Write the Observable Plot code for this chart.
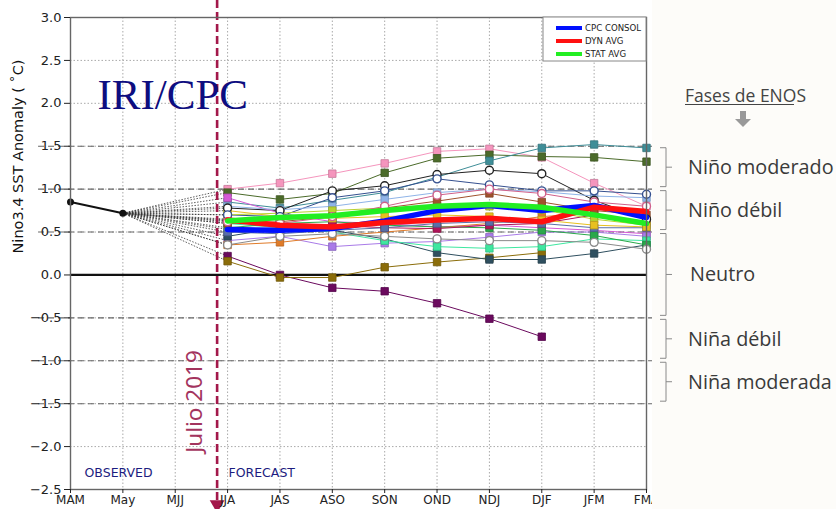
<!DOCTYPE html>
<html><head><meta charset="utf-8">
<script src="https://cdn.jsdelivr.net/npm/d3@7"></script>
<script src="https://cdn.jsdelivr.net/npm/@observablehq/plot@0.6"></script>
<style>
html,body{margin:0;padding:0;background:#fff;}
#chart{position:relative;width:836px;height:509px;overflow:hidden;}
svg{overflow:visible;}
</style></head><body><div id="chart"></div>
<script>
// ---------------- data ----------------
const seasons = ["MAM","May","MJJ","JJA","JAS","ASO","SON","OND","NDJ","DJF","JFM","FMA"];
const firstForecast = 3; // index of JJA
const observed = [0.85, 0.72];
const cpcConsol = [0.53, 0.52, 0.54, 0.63, 0.75, 0.81, 0.75, 0.81, 0.67];
const dynAvg    = [0.64, 0.58, 0.56, 0.61, 0.64, 0.66, 0.62, 0.79, 0.74];
const statAvg   = [0.63, 0.67, 0.69, 0.75, 0.80, 0.82, 0.79, 0.70, 0.60];

const modelColors  = ["#f595bd","#4b6b2a","#3f8e98","#222222","#35508f","#d65ad6","#a97be8","#e07b28","#6b0a5e","#8b6d0a","#2f4f5f","#3ee8a0","#2aa84a","#b0145a","#8fb4e8","#b8d230","#8a8a8a","#a0522d","#d0608a","#5a6fa8","#e8c020"];
const modelSymbols = ["square","square","square","circle","circle","square","square","square","square","square","square","square","square","square","square","square","circle","square","circle","square","square"];
const modelValues = [
  [1.00, 1.07, 1.18, 1.30, 1.44, 1.47, 1.37, 1.07, 0.80],
  [0.96, 0.88, 0.95, 1.19, 1.36, 1.40, 1.38, 1.37, 1.32],
  [0.85, 0.78, 0.87, 0.96, 1.14, 1.33, 1.48, 1.52, 1.48],
  [0.78, 0.75, 0.98, 1.04, 1.17, 1.22, 1.18, 0.87, 0.65],
  [0.70, 0.68, 0.90, 0.98, 1.12, 1.05, 0.98, 0.98, 0.94],
  [0.90, 0.72, 0.62, 0.60, 0.56, 0.58, 0.55, 0.52, 0.48],
  [0.40, 0.45, 0.33, 0.37, 0.39, 0.44, 0.50, 0.50, 0.45],
  [0.35, 0.38, 0.45, 0.50, 0.55, 0.60, 0.68, 0.72, 0.60],
  [0.22, 0.00, -0.15, -0.19, -0.33, -0.51, -0.72, null, null],
  [0.16, -0.03, -0.03, 0.09, 0.15, 0.20, 0.26, null, null],
  [0.45, 0.55, 0.52, 0.42, 0.26, 0.18, 0.18, 0.25, 0.35],
  [0.60, 0.55, 0.50, 0.40, 0.33, 0.31, 0.33, 0.42, 0.40],
  [0.55, 0.60, 0.62, 0.58, 0.56, 0.55, 0.52, 0.46, 0.35],
  [0.65, 0.60, 0.58, 0.55, 0.54, 0.58, 0.60, 0.70, 0.62],
  [0.80, 0.76, 0.80, 0.88, 0.96, 1.00, 0.97, 0.92, 0.90],
  [0.70, 0.72, 0.75, 0.78, 0.80, 0.80, 0.76, 0.65, 0.58],
  [0.35, 0.45, 0.48, 0.45, 0.42, 0.40, 0.40, 0.38, 0.30],
  [0.60, 0.62, 0.68, 0.78, 0.86, 0.95, 0.85, 0.75, 0.70],
  [0.62, 0.60, 0.68, 0.80, 0.93, 1.00, 0.95, 0.85, 0.80],
  [0.50, 0.48, 0.52, 0.55, 0.60, 0.62, 0.60, 0.55, 0.55],
  [0.75, 0.68, 0.66, 0.68, 0.70, 0.68, 0.64, 0.58, 0.56]
];
const yTicks = [3.0, 2.5, 2.0, 1.5, 1.0, 0.5, 0.0, -0.5, -1.0, -1.5, -2.0, -2.5];
const thresholds = [1.5, 1.0, 0.5, -0.5, -1.0, -1.5];
const legendItems = [
  {label: "CPC CONSOL", color: "#0010ff"},
  {label: "DYN AVG", color: "#ff1010"},
  {label: "STAT AVG", color: "#22ee22"}
];
const phases = [
  {label: "Niño moderado", hi: 1.5, lo: 1.0},
  {label: "Niño débil", hi: 1.0, lo: 0.5},
  {label: "Neutro", hi: 0.5, lo: -0.5},
  {label: "Niña débil", hi: -0.5, lo: -1.0},
  {label: "Niña moderada", hi: -1.0, lo: -1.5}
];
const julioPos = 2.8;       // between MJJ and JJA
const julioLabel = "Julio 2019";

// ---------------- tables ----------------
const rows = [];
modelValues.forEach((vals, m) => vals.forEach((v, k) => {
  if (v !== null) rows.push({model: m, i: firstForecast + k, v, color: modelColors[m],
    edge: d3.color(modelColors[m]).darker(0.6).formatHex(), symbol: modelSymbols[m]});
}));
const toSeries = arr => arr.map((v, k) => ({i: firstForecast + k, v}));
const obsRows = observed.map((v, i) => ({i, v}));
const jjaStarts = modelValues.map(vals => ({v: vals[0]}))
  .concat([cpcConsol, dynAvg, statAvg].map(a => ({v: a[0]})));

const plot = Plot.plot({
  width: 836, height: 509,
  marginLeft: 70, marginRight: 190, marginTop: 17, marginBottom: 20,
  style: {fontFamily: "DejaVu Sans", fontSize: "12px", color: "#222", background: "transparent", overflow: "visible"},
  x: {domain: [0, 11]},
  y: {domain: [-2.5, 3.0]},
  color: {type: "identity"},
  marks: [
    Plot.gridX(d3.range(12), {stroke: "#aaa", strokeOpacity: 1, strokeDasharray: "1.5,2"}),
    Plot.gridY(yTicks, {stroke: "#aaa", strokeOpacity: 1, strokeDasharray: "1.5,2"}),
    Plot.ruleY(thresholds, {x1: () => -0.61, x2: () => 11.12, stroke: "#666", strokeWidth: 1.1, strokeDasharray: "6,4"}),
    Plot.ruleY([0], {stroke: "#111", strokeWidth: 2.2}),
    Plot.link(jjaStarts, {x1: () => 1, y1: () => observed[1], x2: () => firstForecast, y2: "v",
      stroke: "#333", strokeWidth: 0.8, strokeDasharray: "1.5,1.5"}),
    Plot.line(obsRows, {x: "i", y: "v", stroke: "#111", strokeWidth: 2}),
    Plot.dot(obsRows, {x: "i", y: "v", fill: "#111", r: 3.5}),
    Plot.line(rows, {x: "i", y: "v", z: "model", stroke: "color", strokeWidth: 1}),
    Plot.dot(rows.filter(d => d.symbol === "square"), {x: "i", y: "v", symbol: "square", r: 4.2, fill: "color", stroke: "edge", strokeWidth: 0.8}),
    Plot.dot(rows.filter(d => d.symbol === "circle"), {x: "i", y: "v", r: 4, fill: "#fff", stroke: "color", strokeWidth: 1.4}),
    Plot.line(toSeries(cpcConsol), {x: "i", y: "v", stroke: legendItems[0].color, strokeWidth: 5.5}),
    Plot.line(toSeries(dynAvg), {x: "i", y: "v", stroke: legendItems[1].color, strokeWidth: 5.5}),
    Plot.line(toSeries(statAvg), {x: "i", y: "v", stroke: legendItems[2].color, strokeWidth: 5.5}),
    Plot.ruleX([julioPos], {stroke: "#a3184a", strokeWidth: 2.6, strokeDasharray: "8,4", insetTop: -17, insetBottom: -12}),
    Plot.dot([julioPos], {x: d => d, frameAnchor: "bottom", symbol: "triangle", r: 5.5, rotate: 180, fill: "#a3184a", dy: 15}),
    Plot.text([julioLabel], {frameAnchor: "bottom-left", dx: 131, dy: -88, rotate: -90, fill: "#a3345e",
      fontFamily: "Noto Sans", fontSize: 22.5, textAnchor: "middle"}),
    Plot.text(["IRI/CPC"], {frameAnchor: "top-left", dx: 27, dy: 61, fill: "#0d0d80", fontFamily: "Liberation Serif",
      fontSize: 43, textAnchor: "start", letterSpacing: -0.5}),
    Plot.text(["OBSERVED"], {frameAnchor: "bottom-left", dx: 14, dy: -13, fill: "#1c1c80", fontSize: 12.5, fontWeight: 500, textAnchor: "start"}),
    Plot.text(["FORECAST"], {frameAnchor: "bottom-left", dx: 158, dy: -13, fill: "#1c1c80", fontSize: 12.5, fontWeight: 500, textAnchor: "start"}),
    Plot.frame({stroke: "#666", strokeWidth: 1.4}),
    Plot.axisX(d3.range(12), {tickFormat: i => seasons[i], tickSize: 4, tickPadding: 2, fontSize: 12, label: null}),
    Plot.axisY(yTicks, {tickFormat: d3.format(".1f"), tickSize: 6, tickPadding: 3, fontSize: 13, label: null}),
    Plot.text(["Nino3.4 SST Anomaly ( \u02DAC)"], {frameAnchor: "left", dx: -52, rotate: -90, fontSize: 14.5, fill: "#111"})
  ]
});
document.getElementById("chart").appendChild(plot);

// ---------------- legend & right panel ----------------
const svg = d3.select(plot);
const ys = plot.scale("y");
const Y = v => ys.apply(v);

const leg = svg.append("g").attr("text-anchor", "start");
leg.append("rect").attr("x", 543).attr("y", 17).attr("width", 103).attr("height", 44)
  .attr("fill", "#fff").attr("stroke", "#888").attr("stroke-width", 1);
legendItems.forEach((d, k) => {
  const yy = 28 + k * 13;
  leg.append("line").attr("x1", 556).attr("x2", 582).attr("y1", yy).attr("y2", yy)
    .attr("stroke", d.color).attr("stroke-width", 4);
  leg.append("text").attr("x", 585).attr("y", yy + 3.2).attr("font-family", "DejaVu Sans")
    .attr("font-size", 8.6).attr("fill", "#222").text(d.label);
});

const panel = svg.append("g").attr("text-anchor", "start");
panel.append("rect").attr("x", 652).attr("y", 0).attr("width", 184).attr("height", 509).attr("fill", "#fdfcf9");
panel.append("text").attr("x", 685).attr("y", 102).attr("font-family", "Open Sans").attr("font-size", 17.5)
  .attr("fill", "#444").text("Fases de ENOS");
panel.append("line").attr("x1", 685).attr("x2", 794).attr("y1", 104.5).attr("y2", 104.5).attr("stroke", "#444").attr("stroke-width", 1);
panel.append("path").attr("d", "M740,111h6v8h5l-8,8l-8,-8h5z").attr("fill", "#999");
phases.forEach(p => {
  const y1 = Y(p.hi) + 2, y2 = Y(p.lo) - 2, ym = (y1 + y2) / 2;
  panel.append("path").attr("d", `M660,${y1}H666V${y2}H660M666,${ym}H672`)
    .attr("fill", "none").attr("stroke", "#8a8a8a").attr("stroke-width", 1);
  panel.append("text").attr("x", p.label === "Neutro" ? 690 : 688).attr("y", ym + 7)
    .attr("font-family", "Open Sans").attr("font-size", 19.8).attr("fill", "#3a3a3a").text(p.label);
});
</script></body></html>
